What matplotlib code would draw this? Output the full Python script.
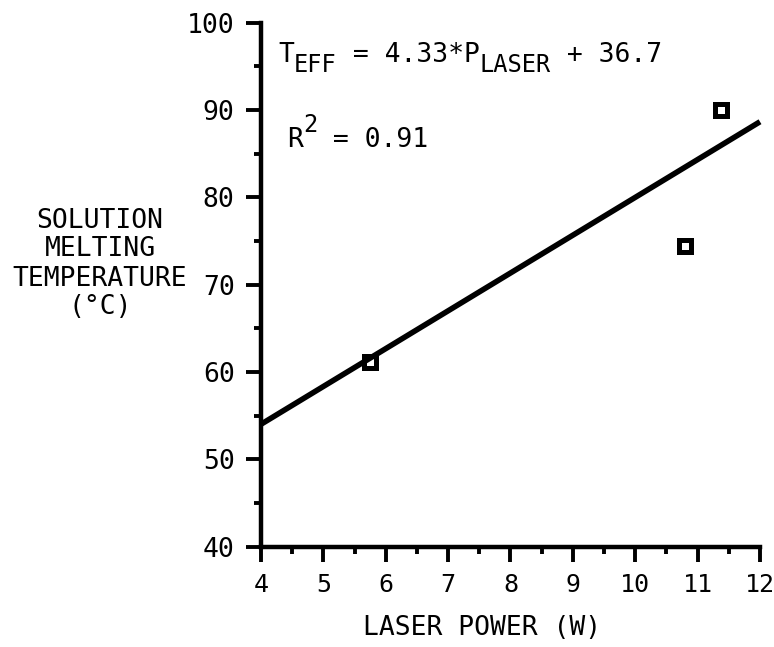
import numpy as np
import matplotlib
matplotlib.use("Agg")
import matplotlib.pyplot as plt
import matplotlib.transforms as mtransforms
from matplotlib.ticker import MultipleLocator

# Measured melting temperatures versus laser power
laser_power = [5.74, 10.79, 11.38]
melt_temp = [61.2, 74.4, 90.0]

# Linear fit reported on the chart
fit_slope = 4.33
fit_intercept = 36.7
fit_r2 = 0.91

x_range = [4, 12]
y_range = [40, 100]

FONT = "DejaVu Sans Mono"
plt.rcParams["font.family"] = [FONT]

W, H = 774, 647
fig = plt.figure(figsize=(W / 100, H / 100), dpi=100)
ax = fig.add_axes([261 / W, 1 - 546.7 / H, (760 - 261) / W, (546.7 - 22.7) / H])

# Fit line across the full x range
xs = np.array(x_range, dtype=float)
ax.plot(xs, fit_slope * xs + fit_intercept, color="black", lw=4.0,
        solid_capstyle="butt", zorder=4, clip_on=False)

# Data points as hollow squares
ax.plot(laser_power, melt_temp, linestyle="none", marker="s", ms=9.0,
        mew=3.6, mec="black", mfc="white", zorder=3, clip_on=False)

ax.set_xlim(*x_range)
ax.set_ylim(*y_range)

for side in ("top", "right"):
    ax.spines[side].set_visible(False)
for side in ("left", "bottom"):
    ax.spines[side].set_linewidth(3.2)
    ax.spines[side].set_capstyle("projecting")

ax.xaxis.set_major_locator(MultipleLocator(1))
ax.xaxis.set_minor_locator(MultipleLocator(0.5))
ax.yaxis.set_major_locator(MultipleLocator(10))
ax.yaxis.set_minor_locator(MultipleLocator(5))

ax.tick_params(which="major", direction="out", length=11, width=2.8,
               labelsize=19, pad=8, color="black")
ax.tick_params(which="minor", direction="out", length=5, width=2.8, color="black")
ax.tick_params(axis="x", which="major", labelsize=18)

# Nudge the rightmost x label so it stays inside the figure
fig.canvas.draw()
last_label = ax.get_xticklabels()[-1]
last_label.set_transform(last_label.get_transform()
                         + mtransforms.ScaledTranslation(-5 / 100, 0, fig.dpi_scale_trans))

renderer = fig.canvas.get_renderer()


def run_text(x_px, y_px, pieces):
    """Draw text pieces one after another; each piece is (text, size, dy_px)."""
    x = x_px
    for s, size, dy in pieces:
        t = fig.text(x / W, 1 - (y_px + dy) / H, s, fontsize=size,
                     ha="left", va="baseline")
        ext = t.get_window_extent(renderer=renderer)
        x += ext.width


# Equation and goodness of fit
run_text(278, 62, [("T", 19, 0), ("EFF", 17, 10), (" = 4.33*P", 19, 0),
                   ("LASER", 17, 10), (" + 36.7", 19, 0)])
run_text(287, 147, [("R", 19, 0), ("2", 17, -15), (" = " + f"{fit_r2:.2f}", 19, 0)])

# Axis titles
fig.text(482 / W, 1 - 628 / H, "LASER POWER (W)", fontsize=19,
         ha="center", va="center")
fig.text(100 / W, 1 - 264 / H, "SOLUTION\nMELTING\nTEMPERATURE\n(°C)",
         fontsize=19, ha="center", va="center", multialignment="center",
         linespacing=1.15)

fig.savefig("out.png", dpi=100, facecolor="white")
